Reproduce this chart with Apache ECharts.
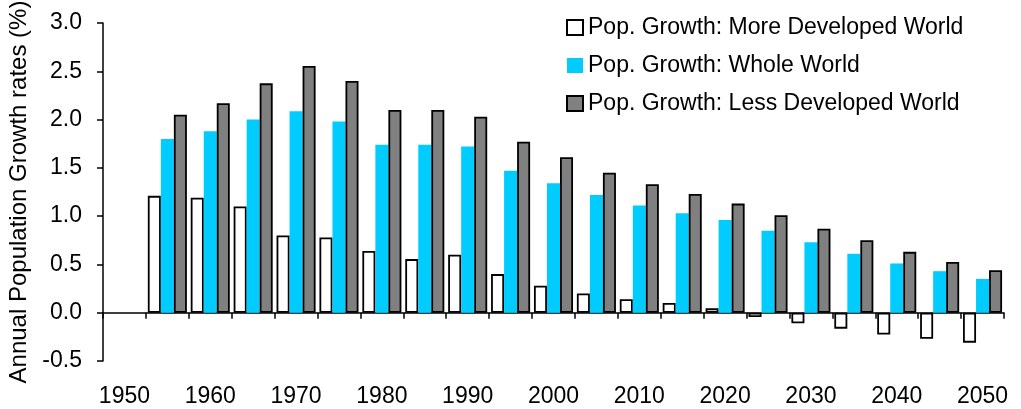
<!DOCTYPE html>
<html>
<head>
<meta charset="utf-8">
<script src="https://cdn.jsdelivr.net/npm/echarts@6/dist/echarts.min.js"></script>
<style>html,body{margin:0;padding:0;background:#fff}#c{width:1021px;height:409px}</style>
</head>
<body>
<div id="c"></div>
<script>
const categories = ['1950','1955','1960','1965','1970','1975','1980','1985','1990','1995','2000','2005','2010','2015','2020','2025','2030','2035','2040','2045','2050'];
const moreDeveloped = [null,1.21,1.19,1.10,0.80,0.78,0.64,0.555,0.60,0.40,0.28,0.20,0.14,0.10,0.045,-0.045,-0.11,-0.165,-0.225,-0.27,-0.31];
const wholeWorld = [null,1.80,1.88,2.00,2.085,1.98,1.74,1.74,1.72,1.47,1.34,1.22,1.11,1.03,0.96,0.85,0.73,0.61,0.51,0.43,0.35];
const lessDeveloped = [null,2.05,2.17,2.375,2.555,2.40,2.10,2.10,2.03,1.77,1.61,1.45,1.33,1.23,1.13,1.01,0.87,0.75,0.63,0.525,0.44];
const seriesNames = ['Pop. Growth: More Developed World','Pop. Growth: Whole World','Pop. Growth: Less Developed World'];

const FONT = 'Liberation Sans, Arial, sans-serif';
const chart = echarts.init(document.getElementById('c'), null, {renderer:'canvas'});
chart.setOption({
  animation: false,
  backgroundColor: '#fff',
  textStyle: {fontFamily: FONT, color: '#000'},
  grid: {left: 103, right: 17, top: 23, bottom: 48, containLabel: false, outerBoundsMode: 'none'},
  legend: {
    orient: 'vertical', left: 566, top: 16, padding: 0,
    itemWidth: 16, itemHeight: 15, itemGap: 15,
    icon: 'rect',
    textStyle: {fontFamily: FONT, fontSize: 23, color: '#000'},
    data: seriesNames
  },
  xAxis: [
    {
      type: 'category', data: categories, position: 'bottom',
      axisLine: {onZero: true, lineStyle: {color: '#000', width: 1.5}},
      axisTick: {show: true, interval: 0, length: 6, lineStyle: {color: '#000', width: 1.5}},
      axisLabel: {show: false},
      splitLine: {show: false}
    },
    {
      type: 'category', data: categories, position: 'bottom',
      axisLine: {show: false, onZero: false},
      axisTick: {show: false},
      axisLabel: {show: true, interval: 1, fontFamily: FONT, fontSize: 23, color: '#000', margin: 24},
      splitLine: {show: false}
    }
  ],
  yAxis: {
    type: 'value', min: -0.5, max: 3, interval: 0.5,
    name: 'Annual Population Growth rates (%)',
    nameLocation: 'middle', nameGap: 68, nameRotate: 90,
    nameTextStyle: {fontFamily: FONT, fontSize: 24, color: '#000'},
    axisLine: {show: true, lineStyle: {color: '#000', width: 1.5}},
    axisTick: {show: true, length: 6, lineStyle: {color: '#000', width: 1.5}},
    axisLabel: {fontFamily: FONT, fontSize: 23, color: '#000', margin: 21, formatter: v => v.toFixed(1)},
    splitLine: {show: false}
  },
  series: [
    {name: seriesNames[0], type: 'bar', data: moreDeveloped, barGap: '0%', barCategoryGap: '9%',
     itemStyle: {color: '#ffffff', borderColor: '#000', borderWidth: 1.8}},
    {name: seriesNames[1], type: 'bar', data: wholeWorld, barGap: '0%', barCategoryGap: '9%',
     itemStyle: {color: '#00ccff', borderWidth: 0}},
    {name: seriesNames[2], type: 'bar', data: lessDeveloped, barGap: '0%', barCategoryGap: '9%',
     itemStyle: {color: '#808080', borderColor: '#000', borderWidth: 1.8}}
  ]
});
</script>
</body>
</html>
